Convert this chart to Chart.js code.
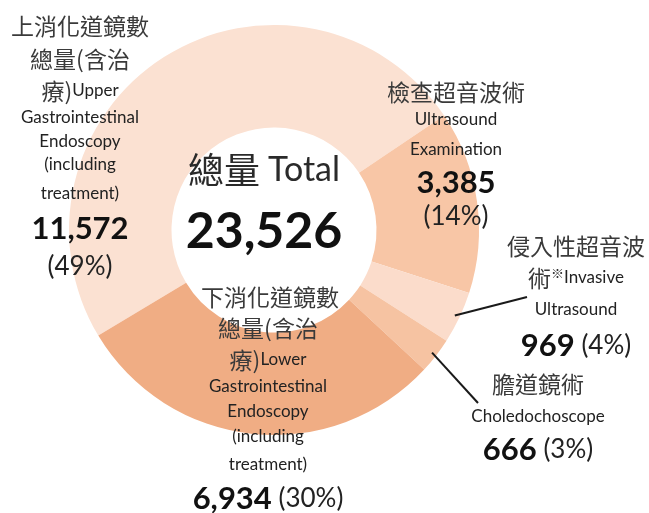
<!DOCTYPE html>
<html>
<head>
<meta charset="utf-8">
<script src="https://cdn.jsdelivr.net/npm/chart.js@4/dist/chart.umd.min.js"></script>
<style>
  html, body { margin: 0; padding: 0; background: #fff; }
  #c { display: block; }
</style>
</head>
<body>
<canvas id="c" width="649" height="513"></canvas>
<script>
// datos del grafico
var categories = ['上消化道鏡數總量(含治療)', '檢查超音波術', '侵入性超音波術※', '膽道鏡術', '下消化道鏡數總量(含治療)'];
var englishNames = ['Upper Gastrointestinal Endoscopy (including treatment)', 'Ultrasound Examination', 'Invasive Ultrasound', 'Choledochoscope', 'Lower Gastrointestinal Endoscopy (including treatment)'];
var counts = [11572, 3385, 969, 666, 6934];
var pctLabels = ['49%', '14%', '4%', '3%', '30%'];
var sliceColors = ['#fbe1d2', '#f8c6a6', '#fbdccb', '#f6c3a2', '#f0ad84'];

var CJK = '"Noto Sans CJK TC", sans-serif';
var LAT = 'Lato, "Noto Sans", sans-serif';

function fmt(n) { return n.toLocaleString('en-US'); }

var total = counts.reduce(function (a, b) { return a + b; }, 0);

// dibuja una linea con varias partes de fuente distinta, centrada en cx
function drawRuns(ctx, runs, cx, cy) {
    var w = 0;
    runs.forEach(function (r) { ctx.font = r.f; r.w = ctx.measureText(r.t).width; w += r.w; });
    var x = cx - w / 2;
    runs.forEach(function (r) {
        ctx.font = r.f;
        ctx.fillStyle = r.c || '#333';
        ctx.fillText(r.t, x, cy + (r.dy || 0));
        x += r.w;
    });
}

var cj = function (t) { return { t: t, f: '23px ' + CJK, c: '#3a3a3a' }; };
var sm = function (t) { return { t: t, f: '17px ' + LAT, c: '#222' }; };
var bn = function (t) { return { t: t, f: 'bold 31px ' + LAT, c: '#111' }; };
var pc = function (t) { return { t: t, f: '26px ' + LAT, c: '#222' }; };

var labelsPlugin = {
    id: 'labelsPlugin',
    afterDraw: function (chart) {
        var ctx = chart.ctx;
        var arcs = chart.getDatasetMeta(0).data;
        ctx.save();
        ctx.textBaseline = 'middle';

        // lineas guia
        ctx.strokeStyle = '#1a1a1a';
        ctx.lineWidth = 2;
        [[2, 527, 297], [3, 478, 403]].forEach(function (g) {
            var a = arcs[g[0]];
            var mid = (a.startAngle + a.endAngle) / 2;
            var r = a.outerRadius - 5;
            ctx.beginPath();
            ctx.moveTo(a.x + Math.cos(mid) * r, a.y + Math.sin(mid) * r);
            ctx.lineTo(g[1], g[2]);
            ctx.stroke();
        });

        // centro
        drawRuns(ctx, [{ t: '總量 ', f: '36px ' + CJK, c: '#2a2a2a' }, { t: 'Total', f: '34px ' + LAT, c: '#2a2a2a' }], 264, 170);
        drawRuns(ctx, [{ t: fmt(total), f: 'bold 50px ' + LAT, c: '#111' }], 264, 232);

        // superior
        var ux = 80;
        drawRuns(ctx, [cj('上消化道鏡數')], ux, 26);
        drawRuns(ctx, [cj('總量(含治')], ux, 59);
        drawRuns(ctx, [cj('療)'), sm('Upper')], ux, 91);
        drawRuns(ctx, [sm('Gastrointestinal')], ux, 118);
        drawRuns(ctx, [sm('Endoscopy')], ux, 142);
        drawRuns(ctx, [sm('(including')], ux, 165);
        drawRuns(ctx, [sm('treatment)')], ux, 194);
        drawRuns(ctx, [bn(fmt(counts[0]))], ux, 229);
        drawRuns(ctx, [pc('(' + pctLabels[0] + ')')], ux, 267);

        // ultrasonido
        var sx = 456;
        drawRuns(ctx, [cj('檢查超音波術')], sx, 92);
        drawRuns(ctx, [sm('Ultrasound')], sx, 120);
        drawRuns(ctx, [sm('Examination')], sx, 150);
        drawRuns(ctx, [bn(fmt(counts[1]))], sx, 183);
        drawRuns(ctx, [pc('(' + pctLabels[1] + ')')], sx, 217);

        // invasivo
        var ix = 576;
        drawRuns(ctx, [cj('侵入性超音波')], ix, 246);
        drawRuns(ctx, [cj('術'), { t: '※', f: '13px ' + CJK, c: '#333', dy: -5 }, sm('Invasive')], ix, 278);
        drawRuns(ctx, [sm('Ultrasound')], ix, 310);
        drawRuns(ctx, [bn(fmt(counts[2])), pc(' (' + pctLabels[2] + ')')], ix, 346);

        // coledocoscopio
        var cx = 538;
        drawRuns(ctx, [cj('膽道鏡術')], cx, 384);
        drawRuns(ctx, [sm('Choledochoscope')], cx, 417);
        drawRuns(ctx, [bn(fmt(counts[3])), pc(' (' + pctLabels[3] + ')')], cx, 450);

        // inferior
        var lx = 268;
        drawRuns(ctx, [cj('下消化道鏡數')], 270, 297);
        drawRuns(ctx, [cj('總量(含治')], lx, 328);
        drawRuns(ctx, [cj('療)'), sm('Lower')], lx, 360);
        drawRuns(ctx, [sm('Gastrointestinal')], lx, 387);
        drawRuns(ctx, [sm('Endoscopy')], lx, 412);
        drawRuns(ctx, [sm('(including')], lx, 437);
        drawRuns(ctx, [sm('treatment)')], lx, 465);
        drawRuns(ctx, [bn(fmt(counts[4])), pc(' (' + pctLabels[4] + ')')], lx, 499);

        ctx.restore();
    }
};

new Chart(document.getElementById('c').getContext('2d'), {
    type: 'doughnut',
    data: {
        labels: categories.map(function (c, i) { return c + ' ' + englishNames[i]; }),
        datasets: [{
            data: counts,
            backgroundColor: sliceColors,
            borderWidth: 0
        }]
    },
    options: {
        responsive: false,
        animation: false,
        cutout: '50%',
        rotation: -121,
        layout: { padding: { left: 69, right: 170, top: 25, bottom: 78 } },
        plugins: {
            legend: { display: false },
            tooltip: { enabled: false }
        }
    },
    plugins: [labelsPlugin]
});
</script>
</body>
</html>
